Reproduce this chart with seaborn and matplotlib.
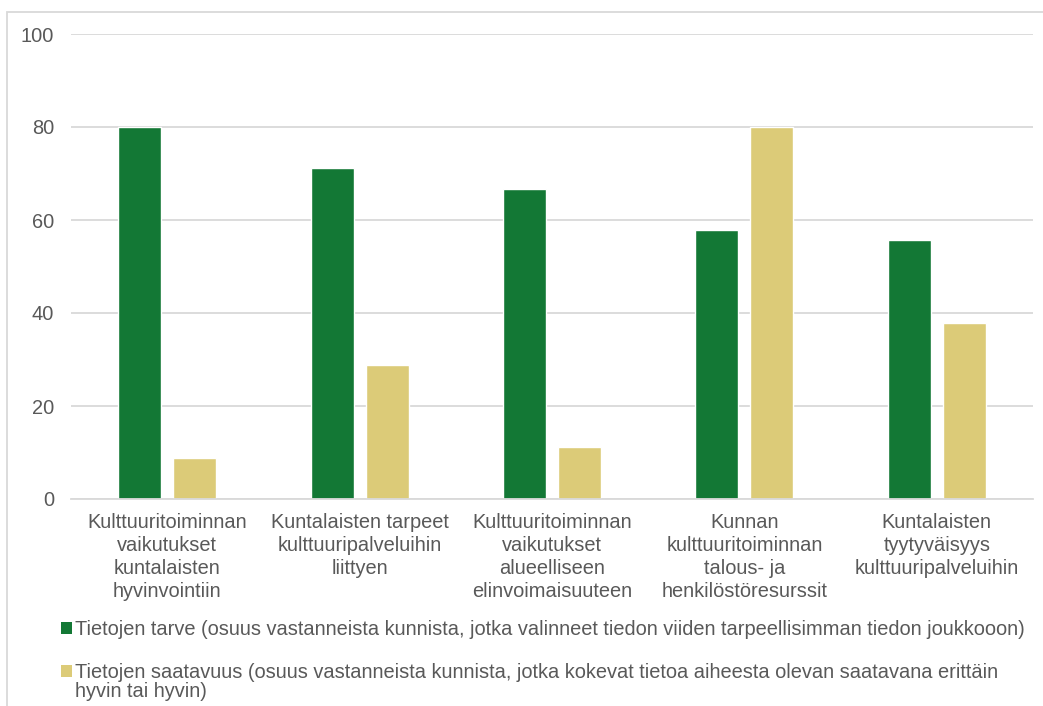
import matplotlib
matplotlib.use('Agg')
import matplotlib.pyplot as plt
import pandas as pd
import seaborn as sns
from matplotlib.patches import Patch, Rectangle

# Data
categories = [
    'Kulttuuritoiminnan\nvaikutukset\nkuntalaisten\nhyvinvointiin',
    'Kuntalaisten tarpeet\nkulttuuripalveluihin\nliittyen',
    'Kulttuuritoiminnan\nvaikutukset\nalueelliseen\nelinvoimaisuuteen',
    'Kunnan\nkulttuuritoiminnan\ntalous- ja\nhenkilöstöresurssit',
    'Kuntalaisten\ntyytyväisyys\nkulttuuripalveluihin',
]
tarve = [80.0, 71.1, 66.7, 57.8, 55.6]
saatavuus = [8.9, 28.9, 11.1, 80.0, 37.8]
series_names = [
    'Tietojen tarve (osuus vastanneista kunnista, jotka valinneet tiedon viiden tarpeellisimman tiedon joukkooon)',
    'Tietojen saatavuus (osuus vastanneista kunnista, jotka kokevat tietoa aiheesta olevan saatavana erittäin\nhyvin tai hyvin)',
]
colors = ['#137835', '#DCCB78']

df = pd.DataFrame({
    'kategoria': categories * 2,
    'arvo': tarve + saatavuus,
    'sarja': [series_names[0]] * 5 + [series_names[1]] * 5,
})

sns.set_theme(style='white')
plt.rcParams['font.family'] = ['Liberation Sans', 'DejaVu Sans']
text_color = '#595959'
grid_color = '#D9D9D9'
fs = 14.4

fig = plt.figure(figsize=(10.43, 7.06), dpi=100)
ax = fig.add_axes([71 / 1043, 1 - 499 / 706, 962 / 1043, 465 / 706])

sns.barplot(data=df, x='kategoria', y='arvo', hue='sarja', palette=colors,
            width=0.572, gap=0.218, ax=ax, legend=False, saturation=1)

ax.set_ylim(0, 100)
ax.set_xlim(-0.5, 4.5)
ax.set_yticks([0, 20, 40, 60, 80, 100])
ax.set_xlabel('')
ax.set_ylabel('')
ax.yaxis.grid(True, color=grid_color, linewidth=1.3)
ax.set_axisbelow(True)
for side in ['top', 'right', 'left']:
    ax.spines[side].set_visible(False)
ax.spines['bottom'].set_color(grid_color)
ax.spines['bottom'].set_linewidth(1.3)
ax.tick_params(axis='both', length=0, colors=text_color, labelsize=fs)
ax.tick_params(axis='y', pad=12)
ax.tick_params(axis='x', pad=10)
for lab in ax.get_xticklabels():
    lab.set_linespacing(1.26)

# Legend below the chart
handles = [Patch(facecolor=c, edgecolor='none') for c in colors]
leg = fig.legend(handles, series_names, loc='upper left', bbox_to_anchor=(51 / 1043, 1 - 610 / 706),
                 frameon=False, fontsize=fs, labelcolor=text_color, handlelength=0.55,
                 handleheight=0.55, handletextpad=0.15, labelspacing=1.2, borderpad=0)
for t in leg.get_texts():
    t.set_linespacing(1.0)
# keep the second marker level with the first line of its label
h2 = leg.legend_handles[1]
h2.set_y(h2.get_y() + fs * 0.55)

# Outer chart border
fig.patches.append(Rectangle((7 / 1043, -0.01), 1.02, 1 - 12 / 706 + 0.01,
                             transform=fig.transFigure, fill=False,
                             edgecolor=grid_color, linewidth=1.3))

fig.savefig('out.png', dpi=100)
